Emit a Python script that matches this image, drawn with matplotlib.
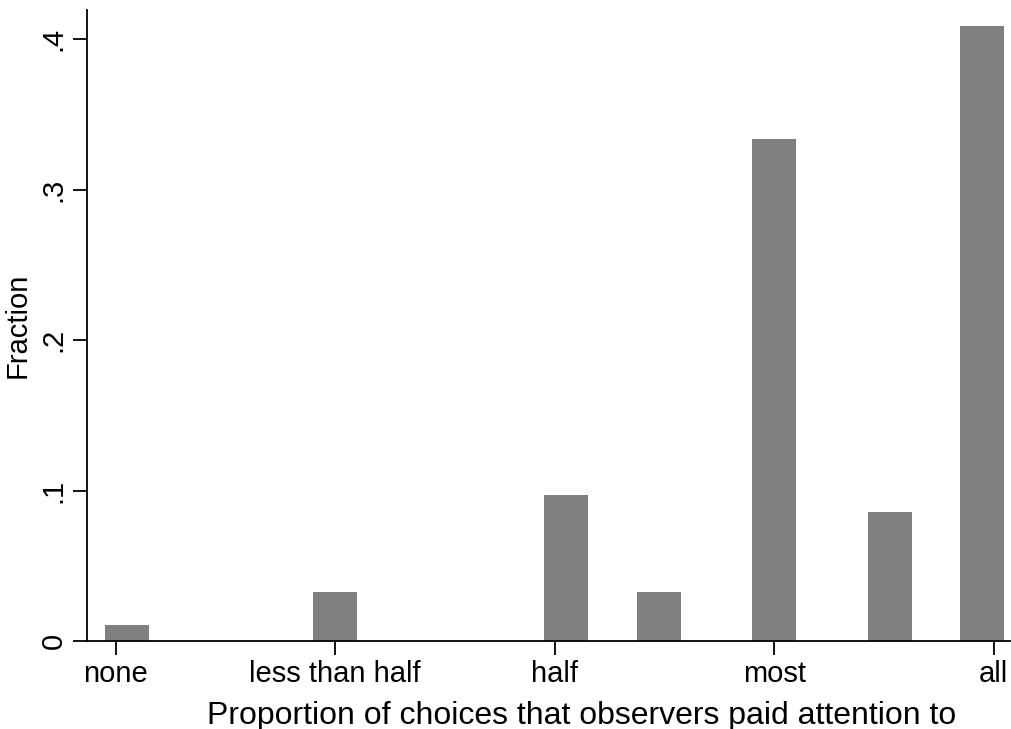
import matplotlib.pyplot as plt

plt.rcParams['font.family'] = ['Liberation Sans', 'DejaVu Sans']

# bin centres on the 0-1 scale and counts per bin (N = 93)
bin_centres = [0.0128, 0.2497, 0.5127, 0.6185, 0.7495, 0.8815, 0.9863]
counts = [1, 3, 9, 3, 31, 8, 38]
n_total = sum(counts)
fractions = [c / n_total for c in counts]
bar_width = 0.0501

tick_pos = [0, 0.25, 0.5, 0.75, 1.0]
tick_labels = ['none', 'less than half', 'half', 'most', 'all']
y_ticks = [0, 0.1, 0.2, 0.3, 0.4]
y_labels = ['0', '.1', '.2', '.3', '.4']

fig = plt.figure(figsize=(10.11, 7.29), dpi=100)
ax = fig.add_axes([87 / 1011, 88 / 729, 923 / 1011, 631 / 729])

ax.bar(bin_centres, fractions, width=bar_width, color='#808080', edgecolor='none')

ax.set_xlim(-0.0327, 1.0185)
ax.set_ylim(0, 0.4193)

ax.set_xticks(tick_pos)
ax.set_xticklabels(tick_labels, fontsize=21)
ax.set_yticks(y_ticks)
ax.set_yticklabels(y_labels, fontsize=21, rotation=90, va='center')

ax.tick_params(axis='both', length=10, width=1.3, color='black', pad=4)
for side in ['top', 'right']:
    ax.spines[side].set_visible(False)
for side in ['left', 'bottom']:
    ax.spines[side].set_linewidth(1.3)

ax.set_xlabel('Proportion of choices that observers paid attention to',
              fontsize=23, labelpad=9, x=0.536)
ax.set_ylabel('Fraction', fontsize=21, labelpad=6)

fig.savefig('out.png', dpi=100)
